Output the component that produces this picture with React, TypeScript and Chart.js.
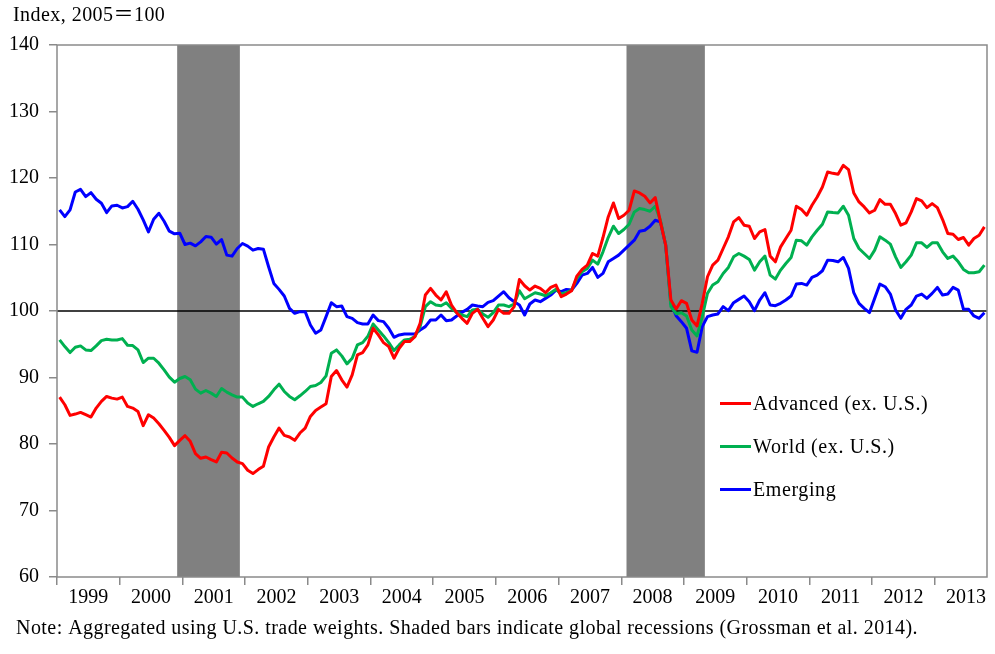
import React, { useEffect, useRef } from 'react';
import { Chart, registerables } from 'chart.js';

Chart.register(...registerables);

// Monthly index, Jan 1999 – Oct 2013 (2005 = 100)
const YEAR_LABELS = ['1999', '2000', '2001', '2002', '2003', '2004', '2005', '2006', '2007', '2008', '2009', '2010', '2011', '2012', '2013'];

const ADVANCED = [
  87.05, 85.9, 84.3, 84.5, 84.75, 84.4, 84.05, 85.4, 86.4, 87.15, 86.9, 86.75,
  87.05, 85.65, 85.4, 84.9, 82.75, 84.4, 83.9, 83.05, 82.05, 81.0, 79.75, 80.55,
  81.25, 80.4, 78.55, 77.85, 78.05, 77.65, 77.3, 78.75, 78.65, 77.9, 77.3, 77.05,
  76.05, 75.55, 76.15, 76.65, 79.55, 81.05, 82.4, 81.3, 81.05, 80.55, 81.65, 82.4,
  84.15, 85.05, 85.55, 86.05, 90.15, 91.05, 89.65, 88.55, 90.4, 93.4, 93.75, 94.9,
  97.4, 96.4, 95.25, 94.65, 92.9, 94.4, 95.4, 95.4, 96.15, 98.15, 102.4, 103.4,
  102.4, 101.65, 102.9, 100.9, 99.75, 98.9, 98.15, 99.65, 100.25, 98.9, 97.65, 98.65,
  100.25, 99.65, 99.65, 100.65, 104.75, 103.8, 103.15, 103.75, 103.4, 102.75, 103.55, 103.9,
  102.15, 102.55, 103.05, 105.25, 106.25, 106.9, 108.65, 108.25, 111.05, 114.15, 116.25, 113.9,
  114.4, 115.15, 118.05, 117.75, 117.25, 116.25, 117.05, 113.4, 109.9, 101.65, 100.3, 101.55,
  101.15, 98.65, 97.75, 101.15, 105.15, 106.9, 107.65, 109.4, 111.15, 113.4, 114.05, 112.9,
  112.75, 110.9, 111.9, 112.25, 108.25, 107.4, 109.65, 110.9, 112.15, 115.75, 115.25, 114.4,
  115.9, 117.15, 118.65, 120.9, 120.7, 120.55, 121.9, 121.25, 117.75, 116.4, 115.65, 114.75,
  115.15, 116.75, 116.05, 116.05, 114.65, 112.9, 113.25, 114.9, 116.9, 116.55, 115.55, 116.15,
  115.55, 113.75, 111.65, 111.55, 110.75, 111.05, 109.9, 110.9, 111.4, 112.65,
];

const WORLD = [
  95.65, 94.65, 93.75, 94.55, 94.75, 94.15, 94.05, 94.75, 95.55, 95.75, 95.65, 95.65,
  95.85, 94.85, 94.8, 94.15, 92.25, 92.9, 92.9, 92.15, 91.15, 90.05, 89.3, 89.85,
  90.15, 89.65, 88.25, 87.65, 88.05, 87.65, 87.15, 88.35, 87.8, 87.4, 87.05, 87.05,
  86.15, 85.65, 86.05, 86.4, 87.15, 88.15, 89.0, 87.9, 87.15, 86.65, 87.25, 87.9,
  88.65, 88.8, 89.25, 90.25, 93.65, 94.15, 93.25, 92.05, 92.9, 94.9, 95.25, 96.2,
  98.05, 97.15, 96.25, 95.25, 94.05, 94.9, 95.65, 95.75, 96.15, 97.65, 100.65, 101.4,
  100.9, 100.8, 101.25, 100.4, 99.75, 99.4, 99.15, 100.15, 100.25, 99.55, 99.05, 99.75,
  100.9, 100.9, 100.65, 101.05, 103.05, 101.85, 102.3, 102.75, 102.55, 102.3, 102.75, 103.25,
  102.55, 102.8, 103.15, 104.9, 105.9, 106.4, 107.65, 107.05, 108.9, 111.05, 112.75, 111.65,
  112.25, 113.05, 114.9, 115.4, 115.25, 115.0, 115.75, 113.65, 109.9, 100.65, 99.6, 99.75,
  99.25, 97.15, 96.25, 99.15, 102.65, 103.9, 104.4, 105.65, 106.55, 108.15, 108.65, 108.25,
  107.75, 106.15, 107.4, 108.25, 105.4, 104.8, 106.15, 107.15, 108.05, 110.65, 110.55, 109.9,
  111.15, 112.15, 113.05, 114.9, 114.8, 114.75, 115.75, 114.4, 110.9, 109.4, 108.65, 107.9,
  109.15, 111.15, 110.65, 110.05, 108.15, 106.55, 107.4, 108.4, 110.25, 110.25, 109.55, 110.25,
  110.25, 108.9, 107.9, 108.25, 107.4, 106.25, 105.75, 105.75, 105.9, 106.9,
];

const EMERGING = [
  115.2, 114.2, 115.2, 117.9, 118.3, 117.2, 117.8, 116.8, 116.2, 114.8, 115.8, 115.9,
  115.5, 115.7, 116.5, 115.3, 113.7, 111.9, 113.8, 114.7, 113.5, 112.0, 111.6, 111.7,
  110.0, 110.2, 109.8, 110.4, 111.2, 111.1, 110.05, 110.75, 108.4, 108.25, 109.4, 110.15,
  109.75, 109.15, 109.4, 109.3, 106.65, 104.15, 103.25, 102.25, 100.4, 99.65, 99.9, 99.9,
  97.9, 96.65, 97.15, 99.15, 101.25, 100.65, 100.75, 99.15, 98.9, 98.25, 98.05, 98.05,
  99.4, 98.55, 98.4, 97.4, 96.05, 96.4, 96.55, 96.55, 96.55, 97.15, 97.65, 98.65,
  98.65, 99.4, 98.55, 98.65, 99.25, 99.8, 100.25, 100.9, 100.75, 100.65, 101.3, 101.55,
  102.25, 102.9, 102.0, 101.4, 100.9, 99.4, 101.05, 101.65, 101.4, 101.9, 102.4, 103.15,
  102.9, 103.25, 103.15, 104.15, 105.4, 105.65, 106.55, 105.05, 105.65, 107.4, 107.9, 108.4,
  109.15, 109.9, 110.65, 112.0, 112.15, 112.75, 113.65, 113.4, 109.9, 101.15, 99.3, 98.4,
  97.4, 94.0, 93.8, 97.65, 99.15, 99.4, 99.55, 100.65, 100.05, 101.25, 101.75, 102.25,
  101.4, 100.05, 101.65, 102.75, 100.9, 100.8, 101.15, 101.65, 102.25, 104.05, 104.15, 103.9,
  105.05, 105.4, 106.05, 107.65, 107.6, 107.4, 108.05, 106.4, 102.75, 101.15, 100.4, 99.75,
  101.9, 104.05, 103.65, 102.55, 100.15, 98.9, 100.25, 100.9, 102.25, 102.55, 101.9, 102.65,
  103.55, 102.4, 102.55, 103.55, 103.15, 100.25, 100.25, 99.25, 98.9, 99.75,
];

// Global recessions as [first month index, month index after end], months from Jan 1999
const RECESSION_STARTS = [23, 109];
const RECESSION_ENDS = [35, 124];

const BASELINE = 100;
const Y_MIN = 60;
const Y_MAX = 140;
const Y_STEP = 10;

const SERIES_LABELS = ['Advanced (ex. U.S.)', 'World (ex. U.S.)', 'Emerging'];
const SERIES_COLORS = ['#FF0000', '#00B050', '#0000FF'];

const TITLE = 'Index, 2005＝100';
const NOTE = 'Note: Aggregated using U.S. trade weights. Shaded bars indicate global recessions (Grossman et al. 2014).';

const FONT_FAMILY = '"Liberation Serif", "Times New Roman", "Noto Sans CJK JP", serif';
const FONT_SIZE = 20;
const AXIS_GRAY = '#8a8a8a';

const toPoints = (arr: number[]) => arr.map((v, i) => ({ x: i + 0.5, y: v }));

const decorPlugin = {
  id: 'decor',
  beforeDatasetsDraw(chart: any) {
    const { ctx, chartArea: a, scales } = chart;
    const x = scales.x;
    const y = scales.y;
    ctx.save();
    ctx.fillStyle = '#808080';
    RECESSION_STARTS.forEach((s, k) => {
      const x0 = x.getPixelForValue(s);
      const x1 = x.getPixelForValue(RECESSION_ENDS[k]);
      ctx.fillRect(x0, a.top, x1 - x0, a.bottom - a.top);
    });
    const yb = y.getPixelForValue(BASELINE);
    ctx.strokeStyle = '#000';
    ctx.lineWidth = 1.5;
    ctx.beginPath();
    ctx.moveTo(a.left, yb);
    ctx.lineTo(a.right, yb);
    ctx.stroke();
    ctx.restore();
  },
  afterDraw(chart: any) {
    const { ctx, chartArea: a } = chart;
    ctx.save();
    // plot border
    ctx.strokeStyle = AXIS_GRAY;
    ctx.lineWidth = 1.5;
    ctx.strokeRect(a.left, a.top, a.right - a.left, a.bottom - a.top);
    // title and note
    ctx.fillStyle = '#000';
    ctx.font = `${FONT_SIZE}px ${FONT_FAMILY}`;
    try { (ctx as any).letterSpacing = '0.45px'; } catch (e) { /* ignore */ }
    ctx.textBaseline = 'alphabetic';
    ctx.textAlign = 'left';
    ctx.fillText(TITLE, 13, 21);
    ctx.fillText(NOTE, 16, 634);
    // legend
    const legX = 720;
    const legYs = [403.5, 446.5, 489.5];
    try { (ctx as any).letterSpacing = '0.6px'; } catch (e) { /* ignore */ }
    chart.data.datasets.forEach((ds: any, i: number) => {
      const ly = legYs[i];
      ctx.strokeStyle = ds.borderColor;
      ctx.lineWidth = 3;
      ctx.beginPath();
      ctx.moveTo(legX, ly);
      ctx.lineTo(legX + 31, ly);
      ctx.stroke();
      ctx.fillStyle = '#000';
      ctx.textBaseline = 'middle';
      ctx.fillText(ds.label, legX + 33, ly + 1);
    });
    ctx.restore();
  },
};

export default function App() {
  const ref = useRef<HTMLCanvasElement | null>(null);

  useEffect(() => {
    if (!ref.current) return;
    const series = [ADVANCED, WORLD, EMERGING];
    const n = ADVANCED.length;
    const chart = new Chart(ref.current, {
      type: 'line',
      data: {
        datasets: series.map((arr, i) => ({
          label: SERIES_LABELS[i],
          data: toPoints(arr),
          borderColor: SERIES_COLORS[i],
          backgroundColor: SERIES_COLORS[i],
          borderWidth: 3,
          pointRadius: 0,
          tension: 0,
          borderJoinStyle: 'round' as const,
          fill: false,
        })),
      },
      options: {
        animation: false,
        responsive: false,
        devicePixelRatio: 1,
        layout: { padding: { top: 45, right: 8, left: 0, bottom: 0 } },
        plugins: {
          legend: { display: false },
          tooltip: { enabled: false },
          title: { display: false },
        },
        scales: {
          x: {
            type: 'linear',
            min: 0,
            max: n,
            afterBuildTicks: (scale: any) => {
              const t: any[] = [];
              for (let v = 0; v <= n; v += 6) t.push({ value: v });
              scale.ticks = t;
            },
            afterFit: (scale: any) => {
              scale.height = 77;
            },
            ticks: {
              autoSkip: false,
              maxRotation: 0,
              minRotation: 0,
              padding: 1,
              color: '#000',
              font: { family: FONT_FAMILY, size: FONT_SIZE },
              callback: (value: any) => {
                const v = Number(value);
                if (v % 12 === 6) return YEAR_LABELS[(v - 6) / 12] ?? '';
                return '';
              },
            },
            grid: {
              drawOnChartArea: false,
              drawTicks: true,
              tickLength: 8,
              lineWidth: 1.5,
              color: (ctx: any) => (ctx.tick && ctx.tick.value % 12 === 0 ? AXIS_GRAY : 'rgba(0,0,0,0)'),
            },
            border: { display: false },
          },
          y: {
            type: 'linear',
            min: Y_MIN,
            max: Y_MAX,
            afterFit: (scale: any) => {
              scale.width = 57;
            },
            ticks: {
              stepSize: Y_STEP,
              padding: 10,
              color: '#000',
              font: { family: FONT_FAMILY, size: FONT_SIZE },
            },
            grid: {
              drawOnChartArea: false,
              drawTicks: true,
              tickLength: 8,
              lineWidth: 1.5,
              color: AXIS_GRAY,
            },
            border: { display: false },
          },
        },
      } as any,
      plugins: [decorPlugin],
    });
    return () => chart.destroy();
  }, []);

  return (
    <div style={{ position: 'absolute', left: 0, top: 0, width: 995, height: 654, background: '#fff' }}>
      <canvas ref={ref} width={995} height={654} style={{ display: 'block' }} />
    </div>
  );
}
